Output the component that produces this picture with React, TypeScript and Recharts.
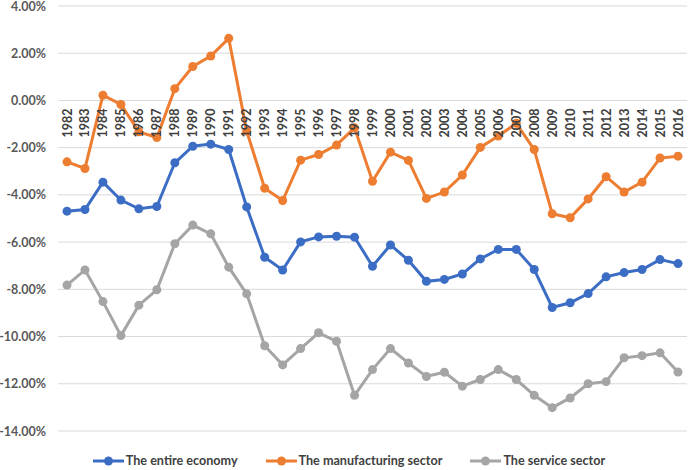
import { LineChart, Line, XAxis, YAxis, CartesianGrid, Legend } from 'recharts';

const years = [
  '1982', '1983', '1984', '1985', '1986', '1987', '1988', '1989', '1990', '1991',
  '1992', '1993', '1994', '1995', '1996', '1997', '1998', '1999', '2000', '2001',
  '2002', '2003', '2004', '2005', '2006', '2007', '2008', '2009', '2010', '2011',
  '2012', '2013', '2014', '2015', '2016',
];

const entireEconomy = [
  -4.69, -4.62, -3.46, -4.22, -4.59, -4.49, -2.64, -1.94, -1.85, -2.08,
  -4.51, -6.64, -7.18, -5.99, -5.78, -5.75, -5.79, -7.02, -6.12, -6.77,
  -7.66, -7.58, -7.35, -6.71, -6.31, -6.31, -7.16, -8.77, -8.57, -8.18,
  -7.47, -7.29, -7.16, -6.74, -6.91,
];

const manufacturing = [
  -2.6, -2.88, 0.22, -0.17, -1.33, -1.57, 0.5, 1.44, 1.88, 2.63,
  -1.3, -3.72, -4.24, -2.53, -2.29, -1.89, -1.16, -3.42, -2.19, -2.54,
  -4.15, -3.88, -3.16, -1.99, -1.51, -0.97, -2.08, -4.8, -4.97, -4.17,
  -3.23, -3.88, -3.46, -2.44, -2.36,
];

const service = [
  -7.82, -7.18, -8.52, -9.96, -8.67, -8.02, -6.07, -5.28, -5.65, -7.06,
  -8.19, -10.39, -11.2, -10.51, -9.84, -10.2, -12.49, -11.4, -10.51, -11.12,
  -11.69, -11.51, -12.1, -11.82, -11.4, -11.82, -12.49, -13.01, -12.6, -12.0,
  -11.91, -10.9, -10.81, -10.69, -11.5,
];

const yTicks = [4, 2, 0, -2, -4, -6, -8, -10, -12, -14];

const series = [
  { key: 'economy', name: 'The entire economy', color: '#3C6DC5' },
  { key: 'manufacturing', name: 'The manufacturing sector', color: '#ED7D31' },
  { key: 'service', name: 'The service sector', color: '#A5A5A5' },
];

const data = years.map((year, i) => ({
  year,
  economy: entireEconomy[i],
  manufacturing: manufacturing[i],
  service: service[i],
}));

const CHART_W = 688;
const CHART_H = 470;
const MARGIN_TOP = 6;
const X_AXIS_H = 1;
const LEGEND_H = 38;
const Y_MAX = 4;
const Y_MIN = -14;
const PLOT_H = CHART_H - MARGIN_TOP - LEGEND_H - X_AXIS_H;
const ZERO_Y = MARGIN_TOP + (PLOT_H * Y_MAX) / (Y_MAX - Y_MIN);

const FONT = 'Lato, "Open Sans", sans-serif';

// year labels sit under the zero line, rotated like in Excel
function YearTick(props: any) {
  const { x, payload } = props;
  return (
    <g transform={`translate(${x}, ${ZERO_Y + 8}) rotate(-90)`}>
      <text
        x={0}
        y={0}
        textAnchor="end"
        dy="0.36em"
        fontSize={12.5}
        fontWeight={700}
        fontFamily={FONT}
        fill="#404040"
      >
        {payload.value}
      </text>
    </g>
  );
}

function ValueTick(props: any) {
  const { y, payload } = props;
  return (
    <text
      x={46}
      y={y}
      textAnchor="end"
      dy="0.36em"
      fontSize={12.5}
      fontWeight={700}
      fontFamily={FONT}
      fill="#595959"
    >
      {`${Number(payload.value).toFixed(2)}%`}
    </text>
  );
}

function LegendContent() {
  return (
    <div
      style={{
        display: 'flex',
        justifyContent: 'center',
        alignItems: 'flex-end',
        height: LEGEND_H,
        paddingBottom: 2,
        paddingLeft: 11,
        boxSizing: 'border-box',
        fontFamily: FONT,
        fontSize: 12.6,
        fontWeight: 700,
        color: '#404040',
      }}
    >
      {series.map((s, i) => (
        <div key={s.key} style={{ display: 'flex', alignItems: 'center', marginLeft: i === 0 ? 0 : 28 }}>
          <svg width={31} height={12} style={{ marginRight: 2 }}>
            <line x1={0} y1={6} x2={31} y2={6} stroke={s.color} strokeWidth={3} />
            <circle cx={15.5} cy={6} r={4.5} fill={s.color} />
          </svg>
          <span>{s.name}</span>
        </div>
      ))}
    </div>
  );
}

export default function App() {
  return (
    <div style={{ position: 'absolute', left: 0, top: 0, background: '#fff' }}>
      <LineChart
        width={CHART_W}
        height={CHART_H}
        data={data}
        margin={{ top: MARGIN_TOP, right: 1, left: 0, bottom: 0 }}
      >
        <CartesianGrid vertical={false} stroke="#D9D9D9" strokeWidth={1} />
        <XAxis
          dataKey="year"
          height={X_AXIS_H}
          axisLine={false}
          tickLine={false}
          interval={0}
          padding={{ left: 9, right: 9 }}
          tick={<YearTick />}
        />
        <YAxis
          domain={[Y_MIN, Y_MAX]}
          ticks={yTicks}
          interval={0}
          width={58}
          axisLine={false}
          tickLine={false}
          tick={<ValueTick />}
        />
        <Legend verticalAlign="bottom" height={LEGEND_H} content={<LegendContent />} />
        {series.map((s) => (
          <Line
            key={s.key}
            dataKey={s.key}
            name={s.name}
            stroke={s.color}
            strokeWidth={3}
            dot={{ r: 4.5, fill: s.color, stroke: s.color, strokeWidth: 0 }}
            isAnimationActive={false}
          />
        ))}
      </LineChart>
    </div>
  );
}
